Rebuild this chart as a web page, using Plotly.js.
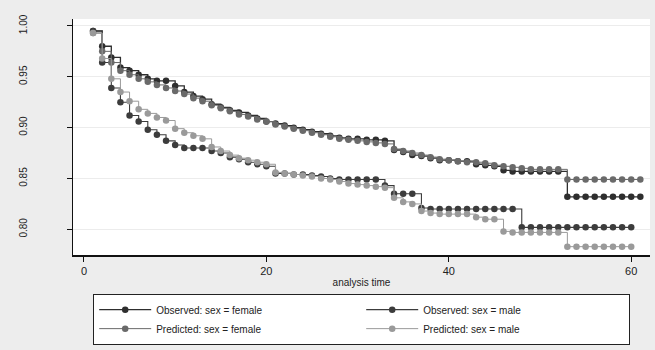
<!DOCTYPE html>
<html>
<head>
<meta charset="utf-8">
<script src="https://cdn.plot.ly/plotly-3.0.1.min.js"></script>
<style>
html,body{margin:0;padding:0;background:#ededed;}
#chart{width:655px;height:350px;}
</style>
</head>
<body>
<div id="chart"></div>
<script>
// analysis time (integer points)
const timeF = [];
for (let t = 1; t <= 61; t++) timeF.push(t);
const timeM = [];
for (let t = 1; t <= 60; t++) timeM.push(t);

// Observed: sex = female
const obsFemale = [0.995,0.980,0.969,0.959,0.956,0.952,0.948,0.946,0.946,0.941,
  0.935,0.931,0.928,0.923,0.920,0.917,0.915,0.912,0.909,0.906,
  0.904,0.902,0.900,0.898,0.896,0.894,0.892,0.890,0.889,0.889,
  0.888,0.888,0.887,0.878,0.876,0.873,0.872,0.870,0.868,0.868,
  0.867,0.867,0.864,0.863,0.862,0.858,0.857,0.857,0.857,0.857,
  0.857,0.857,0.832,0.832,0.832,0.832,0.832,0.832,0.832,0.832,0.832];

// Observed: sex = male
const obsMale = [0.995,0.964,0.939,0.925,0.912,0.906,0.898,0.893,0.887,0.883,
  0.880,0.880,0.880,0.877,0.875,0.871,0.869,0.866,0.864,0.862,
  0.855,0.855,0.854,0.854,0.853,0.852,0.850,0.849,0.849,0.849,
  0.849,0.849,0.843,0.835,0.835,0.835,0.821,0.820,0.820,0.820,
  0.820,0.820,0.820,0.820,0.820,0.820,0.820,0.802,0.802,0.802,
  0.802,0.802,0.802,0.802,0.802,0.802,0.802,0.802,0.802,0.802];

// Predicted: sex = female
const predFemale = [0.993,0.975,0.964,0.956,0.952,0.948,0.945,0.942,0.939,0.936,
  0.933,0.929,0.926,0.922,0.919,0.916,0.913,0.911,0.908,0.906,
  0.903,0.901,0.899,0.897,0.895,0.893,0.891,0.889,0.888,0.887,
  0.886,0.885,0.884,0.879,0.877,0.875,0.873,0.871,0.869,0.868,
  0.867,0.866,0.866,0.865,0.863,0.862,0.861,0.860,0.859,0.859,
  0.859,0.859,0.849,0.849,0.849,0.849,0.849,0.849,0.849,0.849,0.849];

// Predicted: sex = male
const predMale = [0.993,0.968,0.948,0.935,0.926,0.918,0.914,0.910,0.907,0.899,
  0.895,0.892,0.889,0.881,0.877,0.873,0.870,0.868,0.866,0.864,
  0.856,0.855,0.854,0.853,0.852,0.850,0.849,0.847,0.845,0.844,
  0.843,0.842,0.841,0.831,0.827,0.825,0.818,0.816,0.815,0.815,
  0.815,0.815,0.812,0.810,0.810,0.798,0.797,0.797,0.797,0.797,
  0.797,0.797,0.783,0.783,0.783,0.783,0.783,0.783,0.783,0.783];

const seriesNames = ["Observed: sex = female","Observed: sex = male",
  "Predicted: sex = female","Predicted: sex = male"];
const xTicks = [0,20,40,60];
const yTicks = [0.80,0.85,0.90,0.95,1.00];
const yTickText = ["0.80","0.85","0.90","0.95","1.00"];

function tr(x, y, name, col, lw){
  return {x:x, y:y, name:name, type:'scatter', mode:'lines+markers',
    line:{shape:'hv', color:col, width:lw},
    marker:{symbol:'circle', size:6.5, color:col}};
}
const data = [
  tr(timeF, obsFemale, seriesNames[0], '#2e2e2e', 1.3),
  tr(timeM, obsMale, seriesNames[1], '#3c3c3c', 1.1),
  tr(timeF, predFemale, seriesNames[2], '#6a6a6a', 1.0),
  tr(timeM, predMale, seriesNames[3], '#9a9a9a', 1.0)
];

const layout = {
  width:655, height:350,
  paper_bgcolor:'#ededed', plot_bgcolor:'#ffffff',
  margin:{l:73, r:5, t:19, b:92},
  font:{family:'"Liberation Sans", Arial, sans-serif', size:10, color:'#222'},
  showlegend:true,
  xaxis:{range:[-1.2,62.06], tickvals:xTicks, ticks:'outside', ticklen:5,
    tickcolor:'#111', showline:true, linecolor:'#111', linewidth:1.5,
    showgrid:false, zeroline:false, tickfont:{size:11, color:'#222'},
    title:{text:'analysis time', font:{size:10, color:'#222'}, standoff:3},
    automargin:false},
  yaxis:{range:[0.7748,1.0068], tickvals:yTicks, ticktext:yTickText,
    ticks:'outside', ticklen:5, tickcolor:'#111', tickangle:-90,
    ticklabelstandoff:36,
    showline:true, linecolor:'#111', linewidth:1.5, showgrid:true,
    gridcolor:'#ececec', gridwidth:1, zeroline:false,
    tickfont:{size:10, color:'#222'}, automargin:false},
  legend:{orientation:'h', x:0.5, xanchor:'center', y:-0.165, yanchor:'top',
    bgcolor:'#ffffff', bordercolor:'#222', borderwidth:1.2,
    entrywidth:200, itemwidth:52, font:{size:10, color:'#222'},
    traceorder:'normal'}
};

Plotly.newPlot('chart', data, layout, {displayModeBar:false, staticPlot:true});
</script>
</body>
</html>
